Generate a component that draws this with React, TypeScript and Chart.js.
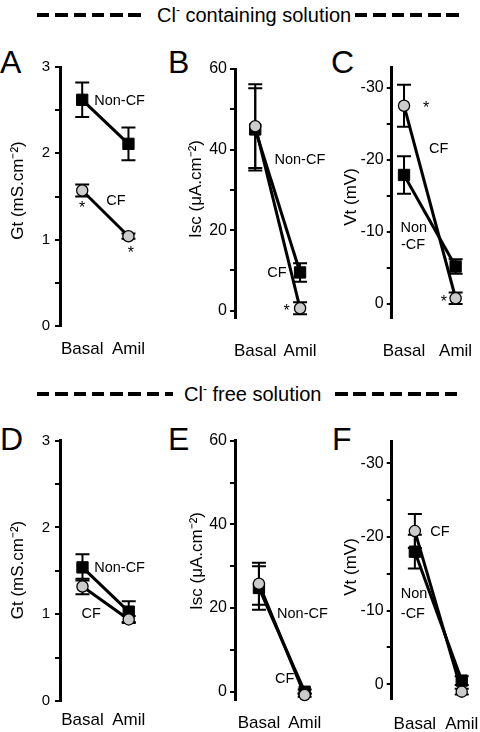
import React, { useEffect, useRef } from "react";
import { Chart, registerables } from "chart.js";

Chart.register(...registerables);
Chart.defaults.font.family = "'Liberation Sans', Arial, Helvetica, sans-serif";
Chart.defaults.color = "#000";

// ---------------- data ----------------
const categories = ["Basal", "Amil"];

// A: Gt, Cl- containing solution
const gtClNonCF = [2.62, 2.11];
const gtClNonCFErr = [0.2, 0.19];
const gtClCF = [1.57, 1.04];
const gtClCFErr = [0.07, 0.03];

// B: Isc, Cl- containing solution
const iscClNonCF = [45.0, 9.5];
const iscClNonCFErr = [10.2, 2.3];
const iscClCF = [45.8, 0.6];
const iscClCFErr = [10.4, 1.5];

// C: Vt, Cl- containing solution
const vtClNonCF = [-17.9, -5.2];
const vtClNonCFErr = [2.6, 1.0];
const vtClCF = [-27.5, -0.8];
const vtClCFErr = [2.9, 0.8];

// D: Gt, Cl- free solution
const gtFreeNonCF = [1.54, 1.03];
const gtFreeNonCFErr = [0.15, 0.12];
const gtFreeCF = [1.32, 0.94];
const gtFreeCFErr = [0.09, 0.04];

// E: Isc, Cl- free solution
const iscFreeNonCF = [24.8, 0.0];
const iscFreeNonCFErr = [5.2, 0.5];
const iscFreeCF = [25.8, -0.8];
const iscFreeCFErr = [5.0, 0.4];

// F: Vt, Cl- free solution
const vtFreeNonCF = [-18.0, -0.5];
const vtFreeNonCFErr = [2.3, 0.6];
const vtFreeCF = [-20.8, 1.0];
const vtFreeCFErr = [2.3, 0.4];

// ticks
const gtTicks = [0, 0.5, 1, 1.5, 2, 2.5, 3];
const gtTickLabels = ["0", "", "1", "", "2", "", "3"];
const iscTicks = [0, 10, 20, 30, 40, 50, 60];
const iscTickLabels = ["0", "", "20", "", "40", "", "60"];
const vtTicks = [0, -5, -10, -15, -20, -25, -30];
const vtTickLabels = ["0", "", "-10", "", "-20", "", "-30"];

// text annotations (x in category units, y in data units)
const notesA = [
  { text: "Non-CF", x: 0.26, y: 2.62 },
  { text: "CF", x: 0.52, y: 1.46 },
  { text: "*", x: 0, y: 1.41 },
  { text: "*", x: 1.05, y: 0.89 },
];
const notesB = [
  { text: "Non-CF", x: 0.43, y: 37.8 },
  { text: "CF", x: 0.27, y: 9.7 },
  { text: "*", x: 0.7, y: 1.0 },
];
const notesC = [
  { text: "CF", x: 0.485, y: -21.6 },
  { text: "Non", x: -0.07, y: -10.7 },
  { text: "-CF", x: -0.06, y: -8.4 },
  { text: "*", x: 0.43, y: -27.7 },
  { text: "*", x: 0.77, y: -0.8 },
];
const notesD = [
  { text: "Non-CF", x: 0.254, y: 1.55 },
  { text: "CF", x: -0.02, y: 1.02 },
];
const notesE = [
  { text: "Non-CF", x: 0.396, y: 18.9 },
  { text: "CF", x: 0.35, y: 3.3 },
];
const notesF = [
  { text: "CF", x: 0.33, y: -20.9 },
  { text: "Non", x: -0.3, y: -12.4 },
  { text: "-CF", x: -0.3, y: -9.7 },
];

// ---------------- layout ----------------
type Note = { text: string; x: number; y: number };
type PanelCfg = {
  left: number; top: number; w: number; h: number;
  axisX: number; basalX: number; amilX: number;
  areaTop: number; areaBottom: number;
  yMin: number; yMax: number; reverse: boolean;
  ticks: number[]; tickLabels: string[]; tickFont: number; tickPad: number;
  title: string; titleX: number; titleY: number; labelY: number;
  nonCF: number[]; nonCFErr: number[]; cf: number[]; cfErr: number[];
  notes: Note[];
};

const GT_TITLE = "Gt (mS.cm\u207B\u00B2)";
const ISC_TITLE = "Isc (\u03BCA.cm\u207B\u00B2)";
const VT_TITLE = "Vt (mV)";

const panels: PanelCfg[] = [
  {
    left: 0, top: 40, w: 180, h: 330, axisX: 60, basalX: 84, amilX: 134,
    areaTop: 67, areaBottom: 326, yMin: 0, yMax: 3, reverse: false,
    ticks: gtTicks, tickLabels: gtTickLabels, tickFont: 15, tickPad: 5,
    title: GT_TITLE, titleX: 18, titleY: 190.5, labelY: 349,
    nonCF: gtClNonCF, nonCFErr: gtClNonCFErr, cf: gtClCF, cfErr: gtClCFErr, notes: notesA,
  },
  {
    left: 178, top: 40, w: 170, h: 330, axisX: 235, basalX: 257, amilX: 305.7,
    areaTop: 69, areaBottom: 318, yMin: -1.81, yMax: 60, reverse: false,
    ticks: iscTicks, tickLabels: iscTickLabels, tickFont: 16, tickPad: 3,
    title: ISC_TITLE, titleX: 196, titleY: 189, labelY: 351.5,
    nonCF: iscClNonCF, nonCFErr: iscClNonCFErr, cf: iscClCF, cfErr: iscClCFErr, notes: notesB,
  },
  {
    left: 334, top: 40, w: 180, h: 330, axisX: 391.7, basalX: 405, amilX: 460.7,
    areaTop: 67, areaBottom: 318, yMin: -32.87, yMax: 1.94, reverse: true,
    ticks: vtTicks, tickLabels: vtTickLabels, tickFont: 16, tickPad: 3,
    title: VT_TITLE, titleX: 351.5, titleY: 197, labelY: 351.5,
    nonCF: vtClNonCF, nonCFErr: vtClNonCFErr, cf: vtClCF, cfErr: vtClCFErr, notes: notesC,
  },
  {
    left: 0, top: 410, w: 180, h: 330, axisX: 60, basalX: 84.3, amilX: 134.3,
    areaTop: 440.7, areaBottom: 701, yMin: 0, yMax: 3, reverse: false,
    ticks: gtTicks, tickLabels: gtTickLabels, tickFont: 15, tickPad: 5,
    title: GT_TITLE, titleX: 18, titleY: 570, labelY: 720.5,
    nonCF: gtFreeNonCF, nonCFErr: gtFreeNonCFErr, cf: gtFreeCF, cfErr: gtFreeCFErr, notes: notesD,
  },
  {
    left: 178, top: 410, w: 170, h: 330, axisX: 235, basalX: 261, amilX: 310.7,
    areaTop: 440.7, areaBottom: 700, yMin: -1.98, yMax: 60, reverse: false,
    ticks: iscTicks, tickLabels: iscTickLabels, tickFont: 16, tickPad: 3,
    title: ISC_TITLE, titleX: 197, titleY: 561, labelY: 723,
    nonCF: iscFreeNonCF, nonCFErr: iscFreeNonCFErr, cf: iscFreeCF, cfErr: iscFreeCFErr, notes: notesE,
  },
  {
    left: 334, top: 410, w: 180, h: 330, axisX: 391.7, basalX: 416.7, amilX: 467.3,
    areaTop: 441.7, areaBottom: 699.3, yMin: -32.93, yMax: 2.04, reverse: true,
    ticks: vtTicks, tickLabels: vtTickLabels, tickFont: 16, tickPad: 3,
    title: VT_TITLE, titleX: 351.5, titleY: 567, labelY: 724,
    nonCF: vtFreeNonCF, nonCFErr: vtFreeNonCFErr, cf: vtFreeCF, cfErr: vtFreeCFErr, notes: notesF,
  },
];

const FONT = "'Liberation Sans', Arial, Helvetica, sans-serif";
const CAT_FONT = 17;
const TITLE_FONT = 17;
const NOTE_FONT = 14.5;
const STAR_FONT = 16;

const errorBarPlugin = {
  id: "errorBars",
  beforeDatasetsDraw(chart: any) {
    const { ctx } = chart;
    const x = chart.scales.x;
    const y = chart.scales.y;
    chart.data.datasets.forEach((ds: any) => {
      ds.data.forEach((p: any, i: number) => {
        const e = ds.errors[i];
        const px = x.getPixelForValue(p.x);
        const a = y.getPixelForValue(p.y + e);
        const b = y.getPixelForValue(p.y - e);
        ctx.save();
        ctx.strokeStyle = "#000";
        ctx.lineWidth = 2;
        ctx.beginPath();
        ctx.moveTo(px, a);
        ctx.lineTo(px, b);
        ctx.moveTo(px - 7, a);
        ctx.lineTo(px + 7, a);
        ctx.moveTo(px - 7, b);
        ctx.lineTo(px + 7, b);
        ctx.stroke();
        ctx.restore();
      });
    });
  },
};

function makeTextPlugin(c: PanelCfg) {
  return {
    id: "panelText",
    afterDatasetsDraw(chart: any) {
      const { ctx } = chart;
      const x = chart.scales.x;
      const y = chart.scales.y;
      ctx.save();
      ctx.fillStyle = "#000";
      ctx.textBaseline = "alphabetic";
      c.notes.forEach((n) => {
        const px = x.getPixelForValue(n.x);
        const py = y.getPixelForValue(n.y);
        if (n.text === "*") {
          ctx.font = `${STAR_FONT}px ${FONT}`;
          ctx.textAlign = "center";
          ctx.fillText("*", px, py + STAR_FONT * 0.575);
        } else {
          ctx.font = `${NOTE_FONT}px ${FONT}`;
          ctx.textAlign = "left";
          ctx.fillText(n.text, px, py + NOTE_FONT * 0.358);
        }
      });
      // y-axis title, rotated
      ctx.translate(c.titleX - c.left, c.titleY - c.top);
      ctx.rotate(-Math.PI / 2);
      ctx.font = `${TITLE_FONT}px ${FONT}`;
      ctx.textAlign = "center";
      ctx.textBaseline = "middle";
      ctx.fillText(c.title, 0, 0);
      ctx.restore();
    },
  };
}

function buildConfig(c: PanelCfg): any {
  const span = c.amilX - c.basalX;
  const xMin = (c.axisX - c.basalX) / span;
  const xMax = (c.left + c.w - c.basalX) / span;
  const yAxisWidth = c.axisX - c.left;
  const padTop = c.areaTop - c.top;
  const xAxisHeight = c.top + c.h - c.areaBottom;
  const xPad = c.labelY - c.areaBottom - 0.6 * CAT_FONT;

  const toPts = (arr: number[]) => arr.map((v, i) => ({ x: i, y: v }));

  return {
    type: "line",
    data: {
      datasets: [
        {
          label: "CF",
          data: toPts(c.cf),
          errors: c.cfErr,
          borderColor: "#000",
          borderWidth: 3,
          pointStyle: "circle",
          pointRadius: 5.6,
          pointBorderWidth: 1.3,
          pointBackgroundColor: "#cccccc",
          pointBorderColor: "#000",
          fill: false,
          tension: 0,
          clip: false,
        },
        {
          label: "Non-CF",
          data: toPts(c.nonCF),
          errors: c.nonCFErr,
          borderColor: "#000",
          borderWidth: 3,
          pointStyle: "rect",
          pointRadius: 8,
          pointBorderWidth: 1,
          pointBackgroundColor: "#000",
          pointBorderColor: "#000",
          fill: false,
          tension: 0,
          clip: false,
        },
      ],
    },
    options: {
      animation: false,
      responsive: false,
      devicePixelRatio: 1,
      events: [],
      layout: { padding: { top: padTop, left: 0, right: 0, bottom: 0 } },
      plugins: { legend: { display: false }, tooltip: { enabled: false } },
      scales: {
        x: {
          type: "linear",
          bounds: "data",
          min: xMin,
          max: xMax,
          afterBuildTicks: (s: any) => {
            s.ticks = categories.map((_, i) => ({ value: i }));
          },
          afterFit: (s: any) => {
            s.height = xAxisHeight;
          },
          ticks: {
            autoSkip: false,
            maxRotation: 0,
            minRotation: 0,
            padding: xPad,
            color: "#000",
            font: { size: CAT_FONT },
            callback: (_v: any, i: number) => categories[i],
          },
          grid: { display: false, drawTicks: false },
          border: { display: false },
        },
        y: {
          type: "linear",
          bounds: "data",
          min: c.yMin,
          max: c.yMax,
          reverse: c.reverse,
          afterBuildTicks: (s: any) => {
            s.ticks = c.ticks.map((v) => ({ value: v }));
          },
          afterFit: (s: any) => {
            s.width = yAxisWidth;
          },
          ticks: {
            autoSkip: false,
            padding: c.tickPad,
            color: "#000",
            font: { size: c.tickFont },
            callback: (v: any) => {
              const idx = c.ticks.findIndex((t) => Math.abs(t - v) < 1e-9);
              return idx >= 0 ? c.tickLabels[idx] : "";
            },
          },
          grid: {
            display: true,
            drawOnChartArea: false,
            drawTicks: true,
            tickLength: 5,
            tickWidth: 2,
            color: "#000",
            lineWidth: 2,
          },
          border: { display: true, color: "#000", width: 3 },
          title: { display: false },
        },
      },
    },
    plugins: [errorBarPlugin, makeTextPlugin(c)],
  };
}

function Panel({ cfg }: { cfg: PanelCfg }) {
  const ref = useRef<HTMLCanvasElement | null>(null);
  useEffect(() => {
    if (!ref.current) return;
    const chart = new Chart(ref.current, buildConfig(cfg));
    return () => chart.destroy();
  }, [cfg]);
  return (
    <canvas
      ref={ref}
      width={cfg.w}
      height={cfg.h}
      style={{ position: "absolute", left: cfg.left, top: cfg.top, width: cfg.w, height: cfg.h }}
    />
  );
}

const dashBg = "repeating-linear-gradient(to right, #000 0px, #000 12.5px, transparent 12.5px, transparent 18.3px)";

function Dashes({ left, top, width }: { left: number; top: number; width: number }) {
  return <div style={{ position: "absolute", left, top, width, height: 4, background: dashBg }} />;
}

function Header({ left, top, rest }: { left: number; top: number; rest: string }) {
  return (
    <div style={{ position: "absolute", left, top, fontSize: 20, lineHeight: "20px", whiteSpace: "nowrap" }}>
      Cl<span style={{ fontSize: 12, position: "relative", top: -8 }}>-</span>
      {rest}
    </div>
  );
}

const letters = [
  { t: "A", left: 0, top: 45.8 },
  { t: "B", left: 168, top: 45.8 },
  { t: "C", left: 331, top: 45.8 },
  { t: "D", left: 0, top: 423 },
  { t: "E", left: 168, top: 423 },
  { t: "F", left: 332, top: 423 },
];

export default function App() {
  return (
    <div
      style={{
        position: "absolute",
        left: 0,
        top: 0,
        width: 480,
        height: 732,
        overflow: "hidden",
        background: "#fff",
        color: "#000",
        fontFamily: FONT,
      }}
    >
      <Dashes left={37} top={13.3} width={106} />
      <Header left={157} top={4.8} rest=" containing solution" />
      <Dashes left={355} top={13.3} width={106} />

      <Dashes left={37} top={392} width={136} />
      <Header left={184} top={384} rest=" free solution" />
      <Dashes left={335} top={392} width={126} />

      {letters.map((l) => (
        <div
          key={l.t}
          style={{ position: "absolute", left: l.left, top: l.top, fontSize: 32, lineHeight: "32px" }}
        >
          {l.t}
        </div>
      ))}

      {panels.map((p, i) => (
        <Panel key={i} cfg={p} />
      ))}
    </div>
  );
}
